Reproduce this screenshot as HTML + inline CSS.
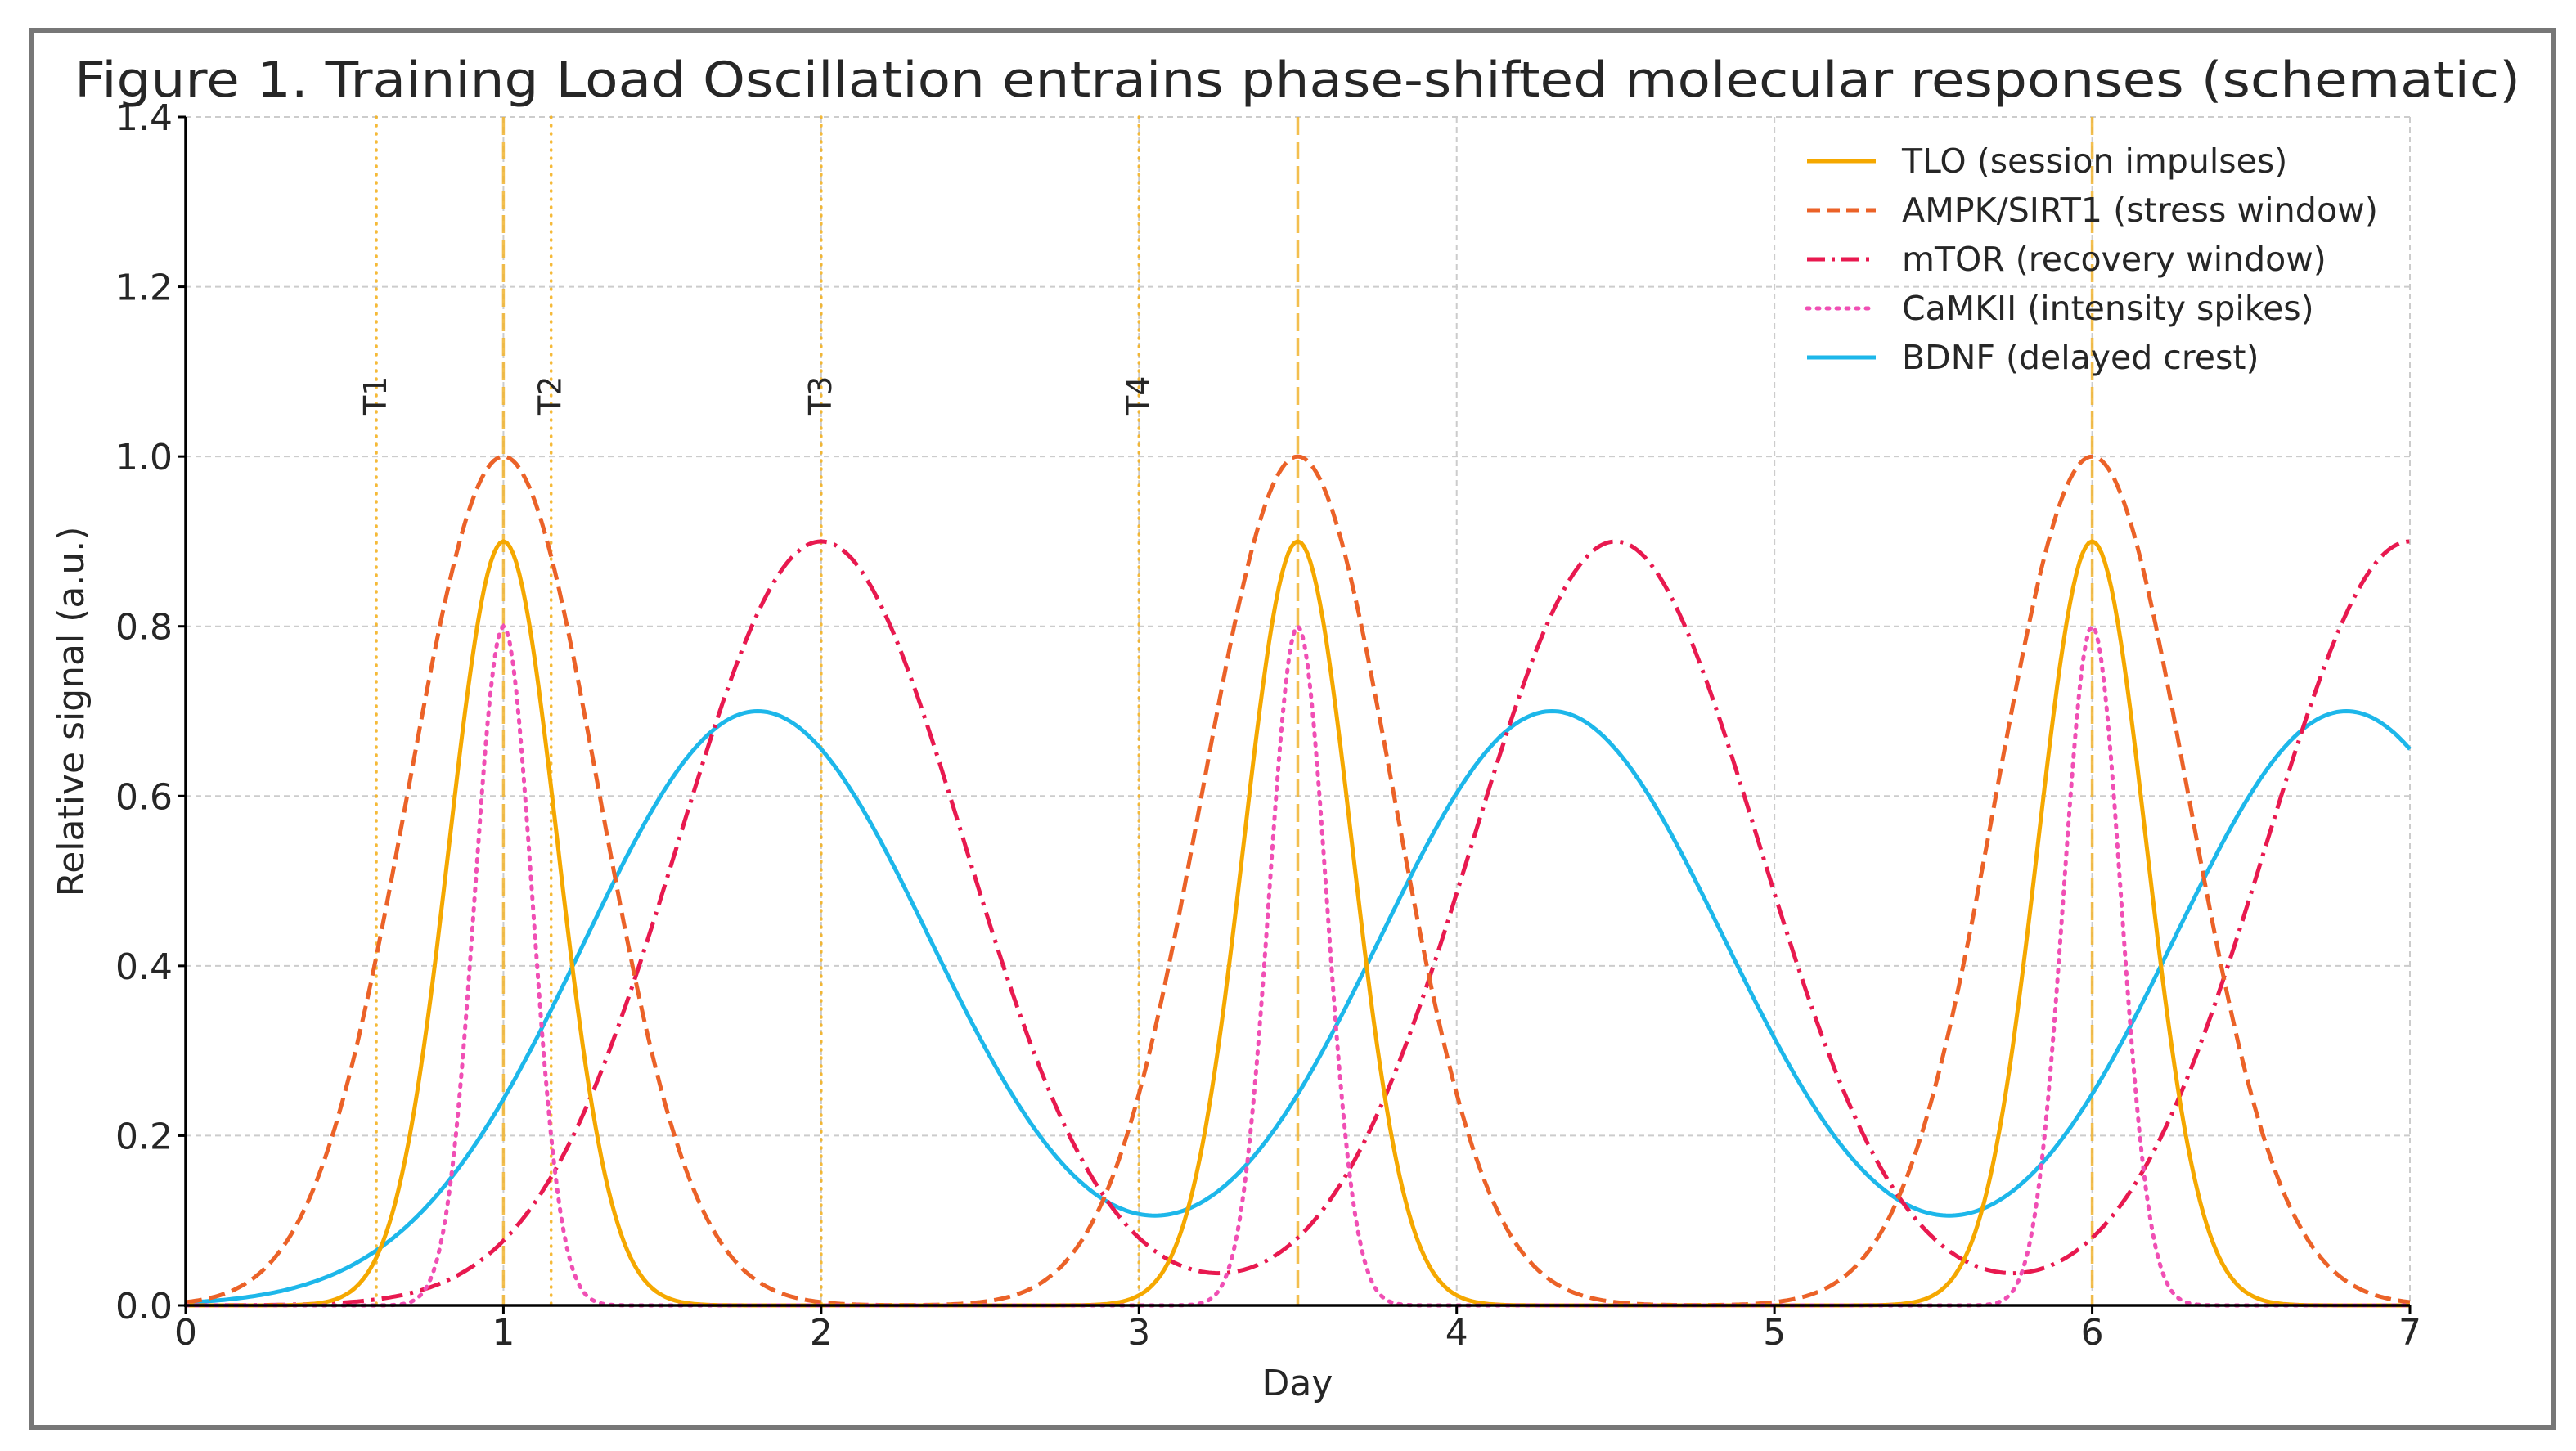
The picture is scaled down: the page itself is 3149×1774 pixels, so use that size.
<!DOCTYPE html>
<html><head><meta charset="utf-8"><style>
html,body{margin:0;padding:0;background:#fff;}
svg{display:block;font-family:"DejaVu Sans","Liberation Sans",sans-serif;}
</style></head><body>
<svg id="chart" width="3149" height="1774" viewBox="0 0 3149 1774" xmlns="http://www.w3.org/2000/svg">
<rect x="0" y="0" width="3149" height="1774" fill="#fff"/>
<rect x="38" y="37" width="3083" height="1708" fill="none" stroke="#777" stroke-width="6"/>
<text x="1586" y="118" text-anchor="middle" font-size="60" fill="#262626" textLength="2990" lengthAdjust="spacingAndGlyphs">Figure 1. Training Load Oscillation entrains phase-shifted molecular responses (schematic)</text>
<g id="grid"></g>
<g id="vlines"></g>
<g id="series"></g>
<g id="axes"></g>
<text x="0" y="0" transform="translate(102,870) rotate(-90)" text-anchor="middle" font-size="44" fill="#262626">Relative signal (a.u.)</text>
<text x="1586" y="1706" text-anchor="middle" font-size="44" fill="#262626">Day</text>
<g id="legend"></g>
</svg>
<script>
// data
const xTicks = [0,1,2,3,4,5,6,7];
const yTicks = [0.0,0.2,0.4,0.6,0.8,1.0,1.2,1.4];
const yTickLabels = ["0.0","0.2","0.4","0.6","0.8","1.0","1.2","1.4"];
const sessionDays = [1, 3.5, 6];
const markerDays = [0.6, 1.15, 2.0, 3.0];
const markerLabels = ["T1","T2","T3","T4"];
const seriesNames = ["TLO (session impulses)","AMPK/SIRT1 (stress window)","mTOR (recovery window)","CaMKII (intensity spikes)","BDNF (delayed crest)"];
const tloCenters = [1, 3.5, 6];
const tloPeaks = [0.9, 0.9, 0.9];
const tloWidth = 0.17;
const ampkCenters = [1, 3.5, 6];
const ampkPeaks = [1.0, 1.0, 1.0];
const ampkWidth = 0.30;
const mtorCenters = [2, 4.5, 7];
const mtorPeaks = [0.9, 0.9, 0.9];
const mtorWidth = 0.45;
const camkCenters = [1, 3.5, 6];
const camkPeaks = [0.8, 0.8, 0.8];
const camkWidth = 0.09;
const bdnfCenters = [1.8, 4.3, 6.8];
const bdnfPeaks = [0.7, 0.7, 0.7];
const bdnfWidth = 0.55;

const NS = "http://www.w3.org/2000/svg";
const X0 = 227, X1 = 2946, Y0 = 1596, Y1 = 143;
const xMin = 0, xMax = 7, yMin = 0, yMax = 1.4;
function sx(v){ return X0 + (v - xMin) / (xMax - xMin) * (X1 - X0); }
function sy(v){ return Y0 - (v - yMin) / (yMax - yMin) * (Y0 - Y1); }
function mk(tag, attrs, parent){ const e = document.createElementNS(NS, tag); for (const k in attrs) e.setAttribute(k, attrs[k]); parent.appendChild(e); return e; }

const grid = document.getElementById('grid');
xTicks.forEach(t => {
  const l = mk('line', {x1: sx(t), x2: sx(t), y1: sy(yMax), y2: sy(yMin), stroke: '#cccccc', 'stroke-width': 2, 'stroke-dasharray': '7,5'}, grid);
  
  
});
yTicks.forEach(t => {
  const l = mk('line', {x1: sx(xMin), x2: sx(xMax), y1: sy(t), y2: sy(t), stroke: '#cccccc', 'stroke-width': 2, 'stroke-dasharray': '7,5'}, grid);
  
  
});

const vl = document.getElementById('vlines');
sessionDays.forEach(d => {
  const l = mk('line', {x1: sx(d), x2: sx(d), y1: sy(yMax), y2: sy(yMin), stroke: '#f2b531', 'stroke-width': 3.5, 'stroke-dasharray': '22,8', opacity: 0.85}, vl);
  
  
});
markerDays.forEach((d, i) => {
  const l = mk('line', {x1: sx(d), x2: sx(d), y1: sy(yMax), y2: sy(yMin), stroke: '#f5b324', 'stroke-width': 3.5, 'stroke-dasharray': '1,9', 'stroke-linecap': 'round', opacity: 0.9}, vl);
  
  
  const t = mk('text', {x: 0, y: 0, transform: 'translate(' + (sx(d) + 12) + ',507) rotate(-90)', 'font-size': 38, fill: '#262626'}, vl);
  t.textContent = markerLabels[i];
  
  
});

function gaussSum(x, centers, peaks, w){ let s = 0; for (let i = 0; i < centers.length; i++){ const d = x - centers[i]; s += peaks[i] * Math.exp(-d*d/(2*w*w)); } return s; }
function path(centers, peaks, w){ let p = ''; for (let i = 0; i <= 700; i++){ const x = xMin + (xMax - xMin) * i / 700; p += (i ? 'L' : 'M') + sx(x).toFixed(1) + ',' + sy(gaussSum(x, centers, peaks, w)).toFixed(1); } return p; }

const styles = [
  {c: '#f5a800', dash: 'none', cap: 'butt'},
  {c: '#eb6228', dash: '20,9', cap: 'butt'},
  {c: '#e8194f', dash: '26,9,4,9', cap: 'butt'},
  {c: '#f04fb4', dash: '3,9', cap: 'round'},
  {c: '#1db7ea', dash: 'none', cap: 'butt'}
];
const seriesData = [
  [bdnfCenters, bdnfPeaks, bdnfWidth, 4, 'bdnf-line'],
  [mtorCenters, mtorPeaks, mtorWidth, 2, 'mtor-line'],
  [ampkCenters, ampkPeaks, ampkWidth, 1, 'ampk-line'],
  [tloCenters, tloPeaks, tloWidth, 0, 'tlo-line'],
  [camkCenters, camkPeaks, camkWidth, 3, 'camkii-line']
];
const sg = document.getElementById('series');
seriesData.forEach(s => {
  const st = styles[s[3]];
  const p = mk('path', {d: path(s[0], s[1], s[2]), fill: 'none', stroke: st.c, 'stroke-width': 5, 'stroke-dasharray': st.dash, 'stroke-linecap': st.cap}, sg);
  
  
});

const ax = document.getElementById('axes');
const ls = mk('line', {x1: X0, x2: X0, y1: Y1, y2: Y0 + 2, stroke: '#000', 'stroke-width': 3.5}, ax);


const bs = mk('line', {x1: X0 - 2, x2: X1, y1: Y0, y2: Y0, stroke: '#000', 'stroke-width': 3.5}, ax);


xTicks.forEach(t => {
  const tk = mk('line', {x1: sx(t), x2: sx(t), y1: Y0, y2: Y0 + 10, stroke: '#000', 'stroke-width': 3}, ax);
  
  
  const tx = mk('text', {x: sx(t), y: Y0 + 48, 'text-anchor': 'middle', 'font-size': 44, fill: '#262626'}, ax);
  tx.textContent = String(t);
  
  
});
yTicks.forEach((t, i) => {
  const tk = mk('line', {x1: X0 - 10, x2: X0, y1: sy(t), y2: sy(t), stroke: '#000', 'stroke-width': 3}, ax);
  
  
  const tx = mk('text', {x: X0 - 16, y: sy(t) + 16, 'text-anchor': 'end', 'font-size': 44, fill: '#262626'}, ax);
  tx.textContent = yTickLabels[i];
  
  
});

const lg = document.getElementById('legend');
seriesNames.forEach((n, i) => {
  const st = styles[i];
  const y = 197 + i * 60;
  const l = mk('line', {x1: 2209, x2: 2293, y1: y, y2: y, stroke: st.c, 'stroke-width': 5, 'stroke-dasharray': st.dash === 'none' ? 'none' : (i === 3 ? '3,9' : (i === 2 ? '22,8,4,8' : '16,8')), 'stroke-linecap': st.cap}, lg);
  
  
  const t = mk('text', {x: 2325, y: y + 14, 'font-size': 41, fill: '#262626'}, lg);
  if (i === 1) { t.setAttribute('textLength', 582); t.setAttribute('lengthAdjust', 'spacingAndGlyphs'); }
  t.textContent = n;
  
  
});
</script>
</body></html>
